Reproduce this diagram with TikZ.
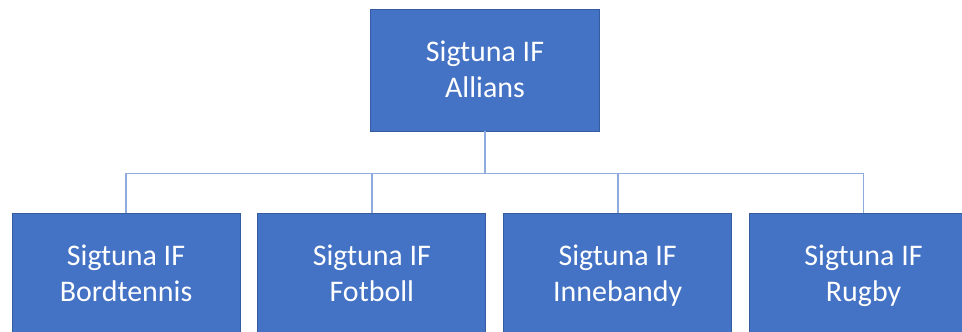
\documentclass[tikz,border=0pt]{standalone}
\usepackage{fontspec}
\setmainfont{Carlito}
\usetikzlibrary{positioning}
\definecolor{orgblue}{RGB}{68,114,196}
\definecolor{orgedge}{RGB}{54,92,160}
\definecolor{orgline}{RGB}{143,170,220}
% struts so every box sets its two lines at the same height
\newcommand{\topstrut}{\rule{0pt}{19.5pt}}
\newcommand{\botstrut}{\rule[-6pt]{0pt}{6pt}}
\tikzset{
  unit/.style={rectangle, draw=orgedge, fill=orgblue, text=white,
    minimum width=5.7cm, minimum height=3.05cm, align=center,
    font=\fontsize{21.3}{25}\selectfont, line width=0.6pt, inner sep=0pt},
  conn/.style={draw=orgline, line width=1.3pt}
}
\begin{document}
\begin{tikzpicture}[node distance=2.05cm and 0.425cm]
  \useasboundingbox (0,0) rectangle (24.05,-8.275);

  \node[unit, minimum width=5.725cm] (allians) at (12.125,-1.75) {\topstrut Sigtuna IF\\Allians\botstrut};
  \node[unit] (bord) at (3.15,-6.85) {\topstrut Sigtuna IF\\Bordtennis\botstrut};
  \node[unit, right=of bord] (fotboll) {\topstrut Sigtuna IF\\Fotboll\botstrut};
  \node[unit, right=of fotboll] (inne) {\topstrut Sigtuna IF\\Innebandy\botstrut};
  \node[unit, right=of inne] (rugby) {\topstrut Sigtuna IF\\Rugby\botstrut};

  % Connectors
  \coordinate[below=1.05cm of allians.south] (bus);
  \foreach \club in {bord, fotboll, inne, rugby}
    \draw[conn] (allians.south) -- (bus) -| (\club.north);
\end{tikzpicture}
\end{document}
